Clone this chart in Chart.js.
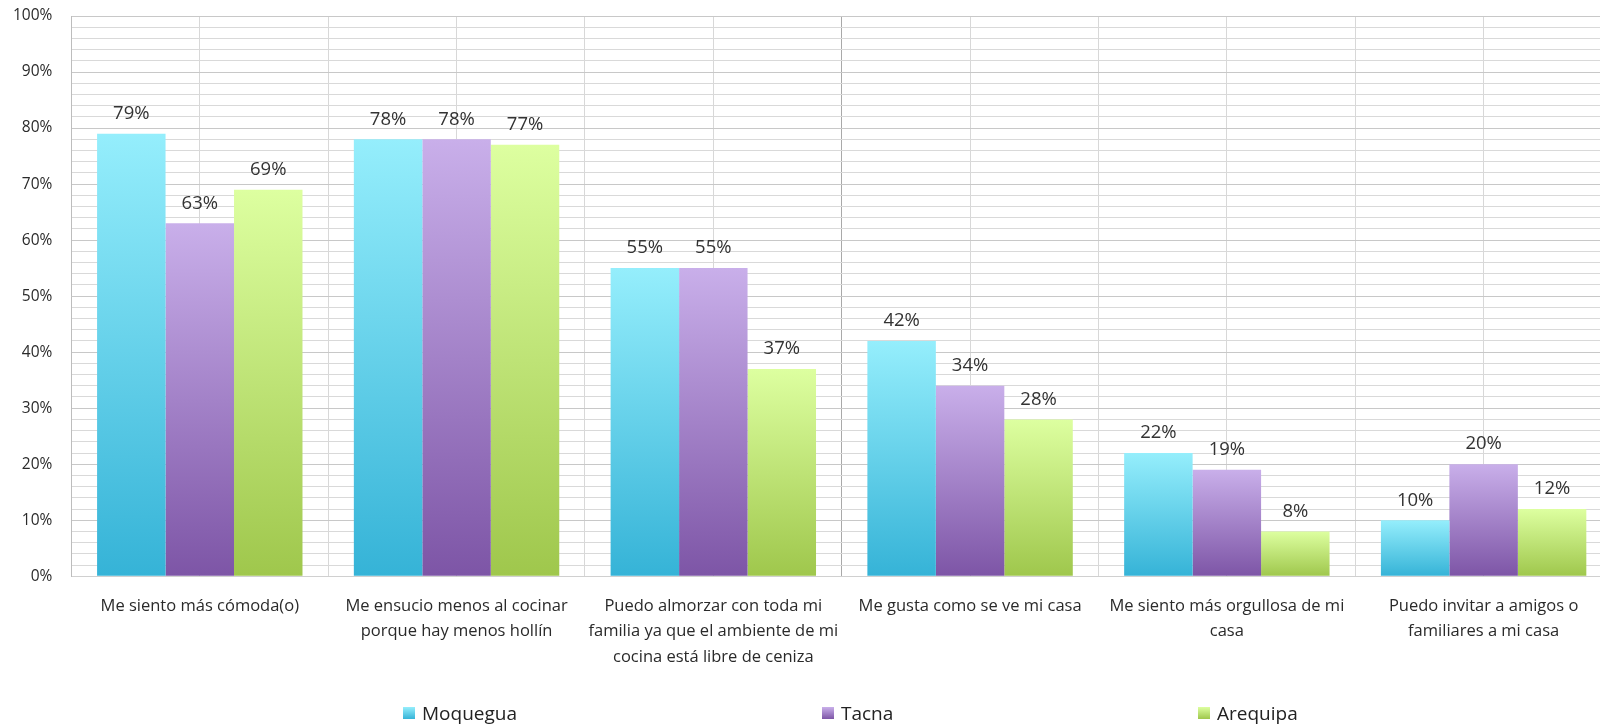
<!DOCTYPE html>
<html>
<head>
<meta charset="utf-8">
<script src="https://cdn.jsdelivr.net/npm/chart.js@4.4.1/dist/chart.umd.min.js"></script>
<style>
  html, body { margin: 0; background: #fff; overflow: hidden; }
  #wrap { position: relative; width: 1600px; height: 726px; overflow: hidden; }
  #chart { position: absolute; left: 0; top: 0; }
  #legend { position: absolute; left: 0; top: 699px; width: 1600px; height: 28px; font: 19px "Open Sans", sans-serif; color: #222; }
  .item { position: absolute; top: 0; display: flex; align-items: center; height: 28px; }
  .box { width: 12px; height: 12px; margin-right: 7px; }
</style>
</head>
<body>
<div id="wrap">
  <!-- plot area runs a little past the right edge, as in the source image -->
  <canvas id="chart" width="1612" height="726"></canvas>
  <div id="legend"></div>
</div>
<script>
const categories = [
  "Me siento más cómoda(o)",
  ["Me ensucio menos al cocinar", "porque hay menos hollín"],
  ["Puedo almorzar con toda mi", "familia ya que el ambiente de mi", "cocina está libre de ceniza"],
  "Me gusta como se ve mi casa",
  ["Me siento más orgullosa de mi", "casa"],
  ["Puedo invitar a amigos o", "familiares a mi casa"]
];
const seriesNames = ["Moquegua", "Tacna", "Arequipa"];
const moquegua = [79, 78, 55, 42, 22, 10];
const tacna = [63, 78, 55, 34, 19, 20];
const arequipa = [69, 77, 37, 28, 8, 12];
const yMin = 0, yMax = 100, yStep = 2, yLabelStep = 10;

const shades = [
  ["#95eefc", "#35b3d7"],
  ["#c9afea", "#7d55a6"],
  ["#ddffa0", "#9fc74c"]
];
const legendLeft = [403, 822, 1198];

// vertical gradient per bar, light at the bar top, dark at the baseline
function barFill(top, bottom) {
  return (c) => {
    const chart = c.chart;
    if (!chart.chartArea || c.raw == null) return bottom;
    const y = chart.scales.y;
    const g = chart.ctx.createLinearGradient(0, y.getPixelForValue(c.raw), 0, y.getPixelForValue(0));
    g.addColorStop(0, top);
    g.addColorStop(1, bottom);
    return g;
  };
}

const valueLabels = {
  id: "valueLabels",
  afterDatasetsDraw(chart) {
    const ctx = chart.ctx;
    ctx.save();
    ctx.font = '18.5px "Open Sans", sans-serif';
    ctx.fillStyle = "#333";
    ctx.textAlign = "center";
    ctx.textBaseline = "middle";
    chart.data.datasets.forEach((ds, i) => {
      chart.getDatasetMeta(i).data.forEach((bar, j) => {
        ctx.fillText(ds.data[j] + "%", bar.x, bar.y - 20);
      });
    });
    ctx.restore();
  }
};

const values = [moquegua, tacna, arequipa];
const tickValue = (c) => (c.tick ? c.tick.value : null);

new Chart(document.getElementById("chart"), {
  type: "bar",
  data: {
    labels: categories,
    datasets: seriesNames.map((name, i) => ({
      label: name,
      data: values[i],
      backgroundColor: barFill(shades[i][0], shades[i][1]),
      borderWidth: 0,
      categoryPercentage: 0.8,
      barPercentage: 1.0
    }))
  },
  options: {
    responsive: false,
    animation: false,
    layout: { padding: { top: 16, right: 0, bottom: 47, left: 11 } },
    plugins: { legend: { display: false }, tooltip: { enabled: false } },
    scales: {
      x: {
        grid: { display: false },
        border: { color: "#d0d0d0" },
        ticks: {
          color: "#2a2a2a",
          font: { family: "Open Sans", size: 16.5, lineHeight: 1.55 },
          padding: 9,
          maxRotation: 0,
          autoSkip: false
        }
      },
      // grid-only axis: a line at every category edge and centre
      xGrid: {
        type: "linear",
        position: "bottom",
        offset: false,
        min: -0.5,
        max: categories.length - 0.5,
        ticks: { display: false, stepSize: 0.5 },
        grid: {
          offset: false,
          drawTicks: false,
          color: (c) => (tickValue(c) === 2.5 ? "#a9a9a9" : "#d8d8d8")
        },
        border: { display: false }
      },
      y: {
        min: yMin,
        max: yMax,
        border: { color: "#bdbdbd" },
        grid: {
          drawTicks: true,
          tickLength: 17,
          tickColor: "rgba(0,0,0,0)",
          color: (c) => (tickValue(c) % yLabelStep === 0 ? "#c8c8c8" : "#d9d9d9")
        },
        ticks: {
          stepSize: yStep,
          autoSkip: false,
          padding: 2,
          color: "#2a2a2a",
          font: { family: "Open Sans", size: 15.5 },
          callback: (v) => (v % yLabelStep === 0 ? v + "%" : "")
        }
      }
    }
  },
  plugins: [valueLabels]
});

const legend = document.getElementById("legend");
seriesNames.forEach((name, i) => {
  const item = document.createElement("div");
  item.className = "item";
  item.style.left = legendLeft[i] + "px";
  const box = document.createElement("span");
  box.className = "box";
  box.style.background = `linear-gradient(${shades[i][0]}, ${shades[i][1]})`;
  const text = document.createElement("span");
  text.textContent = name;
  item.appendChild(box);
  item.appendChild(text);
  legend.appendChild(item);
});
</script>
</body>
</html>
